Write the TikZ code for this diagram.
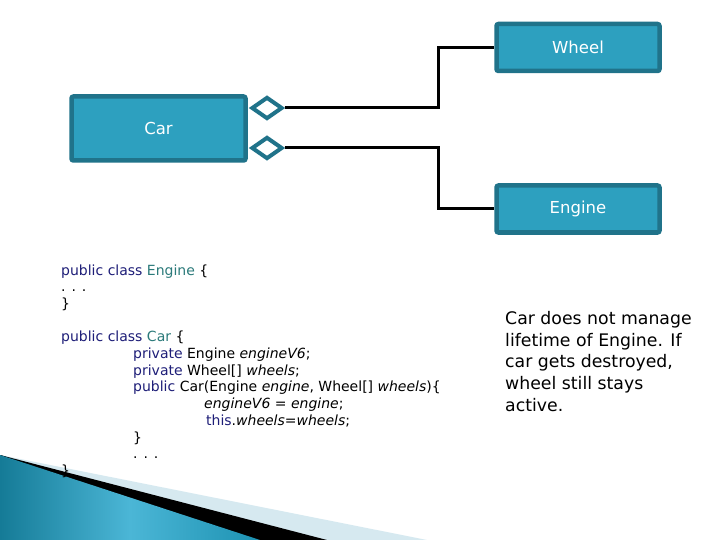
\documentclass[tikz,border=0pt]{standalone}
\usepackage{fontspec}
\setmainfont{DejaVu Sans}[ItalicFont={DejaVu Sans Oblique},BoldFont={DejaVu Sans Bold}]
\usetikzlibrary{shapes.geometric}
\definecolor{boxfill}{HTML}{2DA0BF}
\definecolor{boxline}{HTML}{20738A}
\definecolor{kw}{HTML}{1E1E78}
\definecolor{cls}{HTML}{2B7A7A}
\definecolor{swlight}{HTML}{D6E9F0}
\definecolor{swdark}{HTML}{157B97}
\definecolor{swmid}{HTML}{4BB6D6}
\definecolor{swright}{HTML}{1D92B2}
\begin{document}
\begin{tikzpicture}[x=1pt,y=-1pt,
  umlbox/.style={draw=boxline, line width=4.5pt, fill=boxfill, rounded corners=2pt, text=white, font=\fontsize{16.5}{20}\selectfont, inner sep=0pt},
  agg/.style={shape=diamond, draw=boxline, line width=4pt, fill=white, inner sep=0pt, minimum width=31pt, minimum height=22pt},
  conn/.style={line width=3pt, draw=black},
  code/.style={anchor=base west, inner sep=0pt, font=\fontsize{14}{16.7}\selectfont},
]
\useasboundingbox (0,0) rectangle (720,540);
\fill[white] (0,0) rectangle (720,540);

% slide swoosh
\fill[swlight] (0,455) -- (427,540) -- (0,540) -- cycle;
\fill[black] (0,455) -- (327,540) -- (0,540) -- cycle;
\fill[left color=swdark, right color=swright, middle color=swmid] (0,455) -- (260,540) -- (0,540) -- cycle;

% boxes
\node[umlbox, minimum width=163pt, minimum height=47pt] (wheel) at (578,47.5) {Wheel};
\node[umlbox, minimum width=163pt, minimum height=47pt] (engine) at (578,209) {Engine};
\node[umlbox, minimum width=174pt, minimum height=64pt] (car) at (158.5,128.5) {Car};

\node[agg] (d1) at (267,108) {};
\node[agg] (d2) at (267,148) {};

\coordinate (jx) at (438,0);
\draw[conn] (d1.east) -- (d1.east -| jx) -- (wheel.west -| jx) -- (wheel.west);
\draw[conn] (d2.east) -- (d2.east -| jx) -- (engine.west -| jx) -- (engine.west);

% code
\node[code] (c1) at (61,275) {\textcolor{kw}{public class} \textcolor{cls}{Engine} \{};
\node[code] (c2) at (61,291.7) {. . .};
\node[code] (c3) at (61,308.4) {\}};
\node[code] (c4) at (61,341.8) {\textcolor{kw}{public class} \textcolor{cls}{Car} \{};
\node[code] (c5) at (133,358.5) {\textcolor{kw}{private} Engine \textit{engineV6};};
\node[code] (c6) at (133,375.2) {\textcolor{kw}{private} Wheel[] \textit{wheels};};
\node[code] (c7) at (133,391.9) {\textcolor{kw}{public} Car(Engine \textit{engine}, Wheel[] \textit{wheels})\{};
\node[code] (c8) at (204,408.6) {\textit{engineV6 = engine};};
\node[code] (c9) at (206,425.3) {\textcolor{kw}{this}.\textit{wheels=wheels};};
\node[code] (c10) at (133,442) {\}};
\node[code] (c11) at (133,458.7) {. . .};
\node[code] (c12) at (61,475.4) {\}};

% note
\node[anchor=north west, inner sep=0pt, align=left, font=\fontsize{17.3}{21.8}\selectfont] (note) at (505,311) {Car does not manage\\lifetime of Engine. If\\car gets destroyed,\\wheel still stays\\active.};
\end{tikzpicture}
\end{document}
